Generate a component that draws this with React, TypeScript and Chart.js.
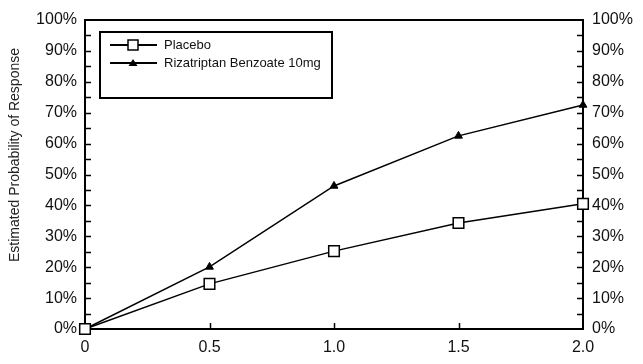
import React, { useEffect, useRef } from "react";
import { Chart, registerables } from "chart.js";

Chart.register(...registerables);

const doses = [0, 0.5, 1.0, 1.5, 2.0];
const placebo = [0, 14.6, 25.2, 34.3, 40.5];
const rizatriptan = [0, 20.1, 46.3, 62.5, 72.5];
const seriesLabels = ["Placebo", "Rizatriptan Benzoate 10mg"];
const yTitle = "Estimated Probability of Response";
const xTickLabels = ["0", "0.5", "1.0", "1.5", "2.0"];

const FONT = "'Liberation Sans', Arial, sans-serif";

const decorPlugin = {
  id: "decor",
  beforeDatasetsDraw(chart: any) {
    const ctx = chart.ctx;
    const { left, right, top, bottom } = chart.chartArea;
    const y = chart.scales.y;
    const x = chart.scales.x;
    ctx.save();
    ctx.strokeStyle = "#000";
    ctx.lineWidth = 2;
    ctx.strokeRect(left, top, right - left, bottom - top);
    ctx.lineWidth = 1.5;
    for (let v = 5; v < 100; v += 5) {
      const py = Math.round(y.getPixelForValue(v)) + 0.5;
      ctx.beginPath();
      ctx.moveTo(left, py);
      ctx.lineTo(left + 6, py);
      ctx.moveTo(right, py);
      ctx.lineTo(right - 6, py);
      ctx.stroke();
    }
    for (let v = 0.5; v < 2; v += 0.5) {
      const px = Math.round(x.getPixelForValue(v)) + 0.5;
      ctx.beginPath();
      ctx.moveTo(px, bottom);
      ctx.lineTo(px, bottom - 6);
      ctx.stroke();
    }
    ctx.fillStyle = "#222";
    ctx.font = `14px ${FONT}`;
    ctx.textAlign = "center";
    ctx.textBaseline = "middle";
    ctx.translate(15, 155);
    ctx.rotate(-Math.PI / 2);
    ctx.fillText(yTitle, 0, 0);
    ctx.restore();

    ctx.save();
    const bx = left + 15, by = top + 12, bw = 232, bh = 66;
    ctx.strokeStyle = "#000";
    ctx.lineWidth = 2;
    ctx.strokeRect(bx, by, bw, bh);
    ctx.font = `13px ${FONT}`;
    ctx.textAlign = "left";
    ctx.textBaseline = "middle";
    const rows = [by + 13, by + 31];
    chart.data.datasets.forEach((ds: any, i: number) => {
      const ry = rows[i];
      ctx.lineWidth = 2;
      ctx.beginPath();
      ctx.moveTo(bx + 10, ry);
      ctx.lineTo(bx + 57, ry);
      ctx.stroke();
      const cx = bx + 33;
      if (i === 0) {
        ctx.fillStyle = "#fff";
        ctx.lineWidth = 1.5;
        ctx.fillRect(cx - 5, ry - 5, 10, 10);
        ctx.strokeRect(cx - 5, ry - 5, 10, 10);
      } else {
        ctx.fillStyle = "#000";
        ctx.beginPath();
        ctx.moveTo(cx, ry - 4);
        ctx.lineTo(cx + 4.5, ry + 3);
        ctx.lineTo(cx - 4.5, ry + 3);
        ctx.closePath();
        ctx.fill();
      }
      ctx.fillStyle = "#111";
      ctx.fillText(ds.label, bx + 64, ry);
    });
    ctx.restore();
  },
};

export default function App() {
  const ref = useRef<HTMLCanvasElement>(null);
  useEffect(() => {
    const tickFont = { family: FONT, size: 16 };
    const chart = new Chart(ref.current!, {
      type: "line",
      data: {
        labels: doses,
        datasets: [
          {
            label: seriesLabels[0],
            data: doses.map((d, i) => ({ x: d, y: placebo[i] })),
            borderColor: "#000",
            borderWidth: 1.5,
            pointStyle: "rect",
            pointRadius: 7.5,
            pointBackgroundColor: "#fff",
            pointBorderColor: "#000",
            pointBorderWidth: 1.5,
            tension: 0,
            clip: false,
          },
          {
            label: seriesLabels[1],
            data: doses.map((d, i) => ({ x: d, y: rizatriptan[i] })),
            borderColor: "#000",
            borderWidth: 1.5,
            pointStyle: "triangle",
            pointRadius: 4.5,
            pointBackgroundColor: "#000",
            pointBorderColor: "#000",
            pointBorderWidth: 1,
            tension: 0,
            clip: false,
          },
        ],
      },
      options: {
        animation: false,
        responsive: false,
        layout: { padding: { top: 20, left: 0, right: 0, bottom: 0 } },
        plugins: { legend: { display: false }, tooltip: { enabled: false } },
        scales: {
          x: {
            type: "linear",
            min: 0,
            max: 2,
            grid: { display: false, drawTicks: false },
            border: { display: false },
            afterBuildTicks: (s: any) => {
              s.ticks = doses.map((v) => ({ value: v }));
            },
            ticks: {
              font: tickFont,
              color: "#111",
              padding: 9,
              maxRotation: 0,
              autoSkip: false,
              callback: (_v: any, i: number) => xTickLabels[i],
            },
            afterFit: (s: any) => {
              s.height = 35;
            },
          },
          y: {
            position: "left",
            min: 0,
            max: 100,
            grid: { display: false, drawTicks: false },
            border: { display: false },
            ticks: {
              stepSize: 10,
              font: tickFont,
              color: "#111",
              padding: 8,
              callback: (v: any) => v + "%",
            },
            afterFit: (s: any) => {
              s.width = 85;
            },
          },
          y2: {
            position: "right",
            min: 0,
            max: 100,
            grid: { display: false, drawTicks: false },
            border: { display: false },
            ticks: {
              stepSize: 10,
              font: tickFont,
              color: "#111",
              padding: 9,
              callback: (v: any) => v + "%",
            },
            afterFit: (s: any) => {
              s.width = 60;
            },
          },
        },
      } as any,
      plugins: [decorPlugin],
    });
    return () => chart.destroy();
  }, []);
  return (
    <div style={{ position: "fixed", left: 0, top: 0, width: 643, height: 364, background: "#fff" }}>
      <canvas ref={ref} width={643} height={364} style={{ display: "block" }} />
    </div>
  );
}
